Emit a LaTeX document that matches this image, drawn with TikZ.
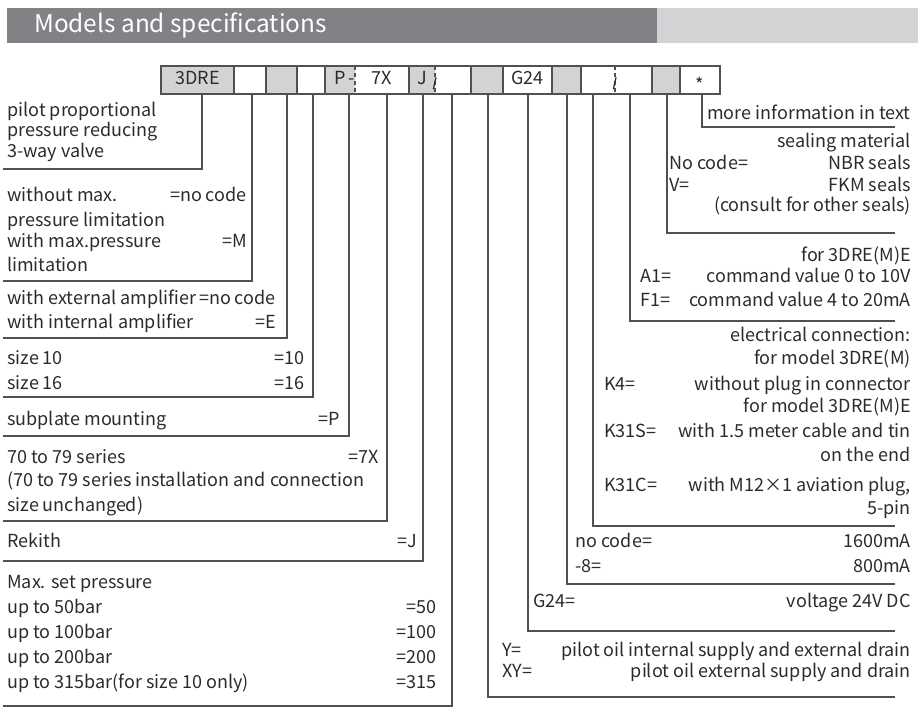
\documentclass[tikz,border=0pt]{standalone}
\usepackage{fontspec}
\setmainfont{Noto Sans CJK SC}
\usepackage{xcolor}
\usetikzlibrary{positioning}
\definecolor{ink}{HTML}{2B2B2B}
\definecolor{rule}{HTML}{505050}
\definecolor{cellgray}{HTML}{D1D3D4}
\definecolor{hdark}{HTML}{808285}
\definecolor{hlight}{HTML}{D1D3D4}

\begin{document}
\begin{tikzpicture}[x=0.75pt,y=-0.75pt,
 txt/.style={inner sep=0pt,text height=0.72em,text depth=0pt,text=ink,font=\fontsize{13.5}{16}\selectfont},
 cell/.style={txt,minimum height=28*0.75pt,outer sep=0pt,anchor=west},
 leg/.style={draw=rule,line width=0.8pt},
 sep/.style={leg,dash pattern=on 3pt off 2.5pt}]
\useasboundingbox (0,0) rectangle (924,715);
\fill[hdark] (7,8) rectangle (657,43); \fill[hlight] (657,8) rectangle (918,43);
\node[anchor=west,inner sep=0pt,text=white,font=\fontsize{18.3}{22}\selectfont] (title) at (34,25.5) {Models and specifications};
\coordinate (c0) at (161,80);
\foreach \w/\f/\t [count=\i,remember=\i as \j (initially 0)] in {73/cellgray/3DRE,32/white/,31/cellgray/,28/white/,30/cellgray/P,54/white/7X,26/cellgray/J,36/white/,32/cellgray/,49/white/G24,29/cellgray/,34/white/,37/white/,28/cellgray/,40/white/\raisebox{-5pt}{*}}
 \node[cell,fill=\f,minimum width=\w*0.75pt,right=0pt of c\j] (c\i) {\t};
\draw[leg] (c1.north west) rectangle (c15.south east);
\foreach \i in {1,2,3,4,6,8,9,10,11,13,14} \draw[leg] (c\i.north east) -- (c\i.south east);
\foreach \i in {5,7,12} \draw[sep] (c\i.north east) -- (c\i.south east);
\node[txt,anchor=east] (dash) at (c5.east) {-};
\foreach \i in {7,12} \node[txt,font=\small\bfseries,yshift=-2pt] (sl\i) at (c\i.east) {/};
\coordinate (L) at (3,0); \coordinate (R) at (895,0);
\foreach \c/\x/\y/\s in {1/202/169/L,2/252/281/L,3/287/338/L,4/313/397/L,5/349/436/L,6/387/521/L,7/423/561/L,8/452/706/L,
 9/488/697/R,10/528/631/R,11/567/584/R,12/593/526/R,13/630/321/R,14/667/233/R,15/702/127/R}
 {\coordinate (k\c) at (\x,\y); \draw[leg] (c\c.south -| k\c) -- (k\c) -- (k\c -| \s);}
\foreach \y/\t [count=\i] in {112/pilot proportional,132/pressure reducing,153/3-way valve,197/without max.,222/pressure limitation,
 243/with max.pressure,267/limitation,300/with external amplifier,324/with internal amplifier,360/size 10,385/size 16,
 421/subplate mounting,459/70 to 79 series,482/{(70 to 79 series installation and connection},507/{size unchanged)},543/Rekith,
 584/Max. set pressure,609/up to 50bar,634/up to 100bar,659/up to 200bar,684/{up to 315bar(for size 10 only)}}
 \node[txt,anchor=west] (lt\i) at (7,\y) {\t};
\foreach \x/\y/\t [count=\i] in {247/197/=no code,247/243/=M,276/300/=no code,276/324/=E,305/360/=10,305/385/=16,340/421/=P,
 379/459/=7X,417/543/=J,437/609/=50,437/634/=100,437/659/=200,437/684/=315}
 \node[txt,anchor=east] (lc\i) at (\x,\y) {\t};
\foreach \x/\y/\t [count=\i] in {669/165/No code=,669/187/V=,640/278/A1=,640/302/F1=,604/386/K4=,604/433/K31S=,604/487/K31C=,
 575/543/no code=,575/568/-8=,533/603/G24=,502/652/Y=,502/673/XY=}
 \node[txt,anchor=west] (rc\i) at (\x,\y) {\t};
\foreach \y/\t [count=\i] in {115/more information in text,143/sealing material,165/NBR seals,187/FKM seals,207/{(consult for other seals)},
 257/for 3DRE(M)E,278/command value 0 to 10V,302/command value 4 to 20mA,337/electrical connection:,360/for model 3DRE(M),
 386/without plug in connector,408/for model 3DRE(M)E,433/with 1.5 meter cable and tin,457/on the end,487/{with M12×1 aviation plug,},
 510/5-pin,543/1600mA,568/800mA,603/voltage 24V DC,652/pilot oil internal supply and external drain,673/pilot oil external supply and drain}
 \node[txt,anchor=east] (rt\i) at (911,\y) {\t};
\end{tikzpicture}
\end{document}
